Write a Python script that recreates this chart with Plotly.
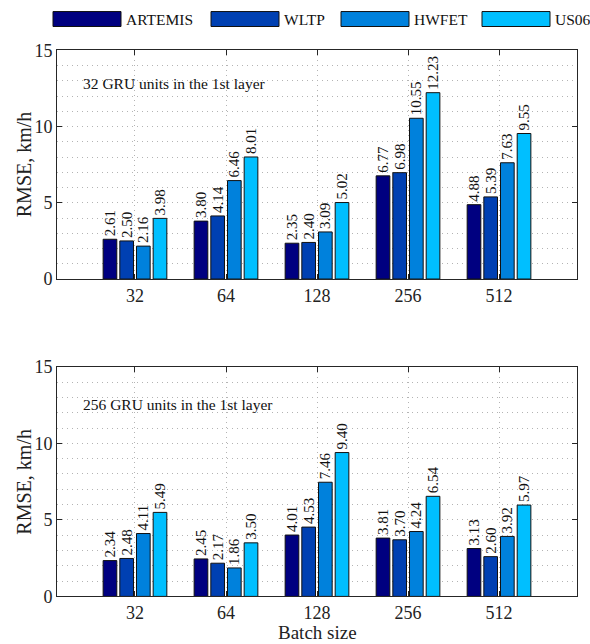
import plotly.graph_objects as go

# Batch sizes on the x axis
batch_sizes = ["32", "64", "128", "256", "512"]
positions = [1, 2, 3, 4, 5]

# Drive cycles (one bar per cycle in each group)
cycles = ["ARTEMIS", "WLTP", "HWFET", "US06"]
colors = ["#000080", "#0040B2", "#0081DC", "#00BFFF"]

# RMSE (km/h), 32 GRU units in the 1st layer
rmse_32 = {
    "ARTEMIS": [2.61, 3.80, 2.35, 6.77, 4.88],
    "WLTP":    [2.50, 4.14, 2.40, 6.98, 5.39],
    "HWFET":   [2.16, 6.46, 3.09, 10.55, 7.63],
    "US06":    [3.98, 8.01, 5.02, 12.23, 9.55],
}

# RMSE (km/h), 256 GRU units in the 1st layer
rmse_256 = {
    "ARTEMIS": [2.34, 2.45, 4.01, 3.81, 3.13],
    "WLTP":    [2.48, 2.17, 4.53, 3.70, 2.60],
    "HWFET":   [4.11, 1.86, 7.46, 4.24, 3.92],
    "US06":    [5.49, 3.50, 9.40, 6.54, 5.97],
}

y_ticks = [0, 5, 10, 15]

W, H = 590, 644
FONT = "Liberation Serif"
AXIS_COLOR = "#262626"
GRID_COLOR = "#b4b4b4"
GRID_DASH = "1px,4px"

fig = go.Figure()

panels = [
    ("x", "y", rmse_32, "32 GRU units in the 1st layer"),
    ("x2", "y2", rmse_256, "256 GRU units in the 1st layer"),
]

for xa, ya, data, _ in panels:
    for name, col in zip(cycles, colors):
        fig.add_trace(go.Bar(
            x=positions, y=data[name], name=name, xaxis=xa, yaxis=ya,
            offsetgroup=name,
            marker=dict(color=col, line=dict(color="#111111", width=1)),
            texttemplate="%{y:.2f}", textposition="outside", textangle=-90,
            constraintext="none", cliponaxis=False,
            textfont=dict(family=FONT, size=15, color="#111111"),
            showlegend=False,
        ))

# page-pixel helpers (the page sits slightly inset and squeezed vertically)
V_OFF, V_SCALE = 9.46, 0.9708

def px_x(p):
    return p / W

def px_y(p):
    q = (p - V_OFF) / V_SCALE
    return 1 - q / H

x_dom = [px_x(57), px_x(577)]
top_dom = [px_y(279), px_y(50)]
bot_dom = [px_y(597), px_y(367)]

xaxis_common = dict(
    range=[0.143, 5.857], tickmode="array", tickvals=positions, ticktext=batch_sizes,
    showgrid=True, gridcolor=GRID_COLOR, griddash=GRID_DASH, gridwidth=1,
    showline=True, linecolor=AXIS_COLOR, linewidth=1, mirror="allticks",
    ticks="inside", ticklen=5, tickcolor=AXIS_COLOR,
    tickfont=dict(family=FONT, size=18, color="#222222"),
    zeroline=False, domain=x_dom,
)
yaxis_common = dict(
    range=[0, 15], tickmode="array", tickvals=y_ticks,
    showgrid=True, gridcolor=GRID_COLOR, griddash=GRID_DASH, gridwidth=1,
    minor=dict(dtick=1, showgrid=True, gridcolor=GRID_COLOR, griddash=GRID_DASH, gridwidth=1),
    showline=True, linecolor=AXIS_COLOR, linewidth=1, mirror="allticks",
    ticks="inside", ticklen=5, tickcolor=AXIS_COLOR,
    tickfont=dict(family=FONT, size=18, color="#222222"),
    zeroline=False,
)

annotations = []
# Panel captions and y-axis titles
for (xa, ya, _, caption), cy, ycap in zip(panels, [164, 482], [83, 405]):
    annotations.append(dict(
        text=caption, xref="paper", yref="paper", x=px_x(81), y=px_y(ycap),
        xanchor="left", yanchor="middle", showarrow=False,
        font=dict(family=FONT, size=15.5, color="#111111"),
    ))
    annotations.append(dict(
        text="RMSE, km/h", xref="paper", yref="paper", x=px_x(24), y=px_y(cy),
        xanchor="center", yanchor="middle", textangle=-90, showarrow=False,
        font=dict(family=FONT, size=20, color="#222222"),
    ))

# x-axis title under the lower panel
annotations.append(dict(
    text="Batch size", xref="paper", yref="paper", x=px_x(317), y=px_y(633),
    xanchor="center", yanchor="middle", showarrow=False,
    font=dict(family=FONT, size=19, color="#222222"),
))

# Legend row: wide swatches with labels
shapes = []
swatch_left = [53, 211, 341, 482]
for name, col, left in zip(cycles, colors, swatch_left):
    shapes.append(dict(
        type="rect", xref="paper", yref="paper",
        x0=px_x(left), x1=px_x(left + 68), y0=px_y(26), y1=px_y(11),
        fillcolor=col, line=dict(color="#111111", width=1),
    ))
    annotations.append(dict(
        text=name, xref="paper", yref="paper", x=px_x(left + 71), y=px_y(19),
        xanchor="left", yanchor="middle", showarrow=False,
        font=dict(family=FONT, size=15.5, color="#111111"),
    ))

fig.update_layout(
    width=W, height=H, autosize=False,
    margin=dict(l=0, r=0, t=0, b=0),
    paper_bgcolor="white", plot_bgcolor="white",
    barmode="group", bargap=0.267, bargroupgap=0.18,
    xaxis=dict(**xaxis_common, anchor="y"),
    yaxis=dict(**yaxis_common, domain=top_dom, anchor="x"),
    xaxis2=dict(**xaxis_common, anchor="y2"),
    yaxis2=dict(**yaxis_common, domain=bot_dom, anchor="x2"),
    annotations=annotations, shapes=shapes,
    showlegend=False,
)

fig.write_html("out.html")
